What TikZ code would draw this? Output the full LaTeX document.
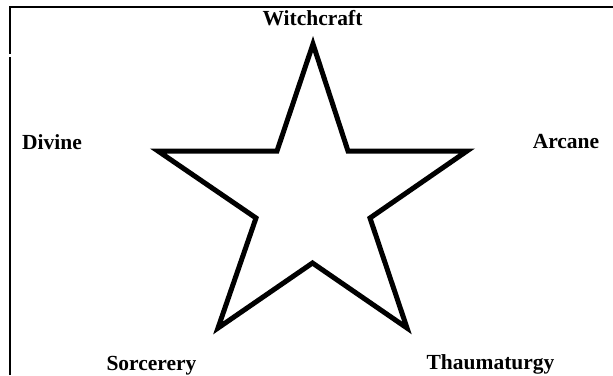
\documentclass[tikz,border=0pt]{standalone}
\usepackage{fontspec}
\setmainfont{Liberation Serif}
\begin{document}
\begin{tikzpicture}[x=1pt,y=-1pt,
  lbl/.style={font=\fontsize{21.5}{23}\selectfont\bfseries, anchor=base, inner sep=0pt},
  frame/.style={line width=2.6pt, line cap=butt},
  starline/.style={line width=5pt, line join=miter}]
\useasboundingbox (0,0) rectangle (613,375);
% frame
\draw[frame] (10,375) -- (10,56.5);
\draw[frame] (10,54) -- (10,7) -- (613,7);
% star
\coordinate (t) at (313,44);
\coordinate (ur) at (348,151);
\coordinate (r) at (467,151);
\coordinate (ir) at (370,218);
\coordinate (br) at (407,328);
\coordinate (b) at (312.5,263);
\coordinate (bl) at (218,328);
\coordinate (il) at (256,218);
\coordinate (l) at (158,151);
\coordinate (ul) at (277,151);
\draw[starline] (t) -- (ur) -- (r) -- (ir) -- (br) -- (b) -- (bl) -- (il) -- (l) -- (ul) -- cycle;
% labels
\node[lbl] (witch) at (312.5,25) {Witchcraft};
\node[lbl] (divine) at (52,149) {Divine};
\node[lbl] (arcane) at (566,148.5) {Arcane};
\node[lbl] (sorc) at (151.5,370.5) {Sorcerery};
\node[lbl] (thau) at (490.5,369.5) {Thaumaturgy};
\end{tikzpicture}
\end{document}
